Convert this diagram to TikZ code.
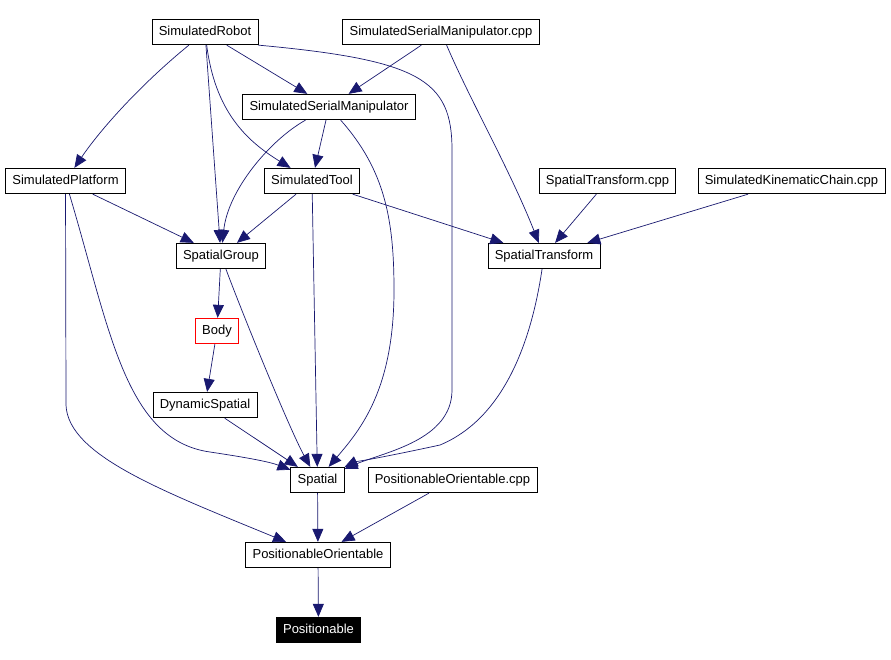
\documentclass[tikz,border=0pt]{standalone}
\usepackage{fontspec}
\setmainfont{Liberation Sans}
\usetikzlibrary{arrows.meta}
\definecolor{edgeblue}{RGB}{25,25,112}
\begin{document}
\begin{tikzpicture}[x=1pt,y=-1pt,
  file/.style={draw=black,line width=0.8pt,inner xsep=6.8pt,inner ysep=0pt,
    minimum height=25.5pt,text height=9.4pt,text depth=2.6pt,
    font=\fontsize{13}{15}\selectfont},
  dep/.style={draw=edgeblue,line width=0.7pt,
    -{Triangle[length=13pt,width=11pt,fill=edgeblue]}}]
  \useasboundingbox[fill=white] (0,0) rectangle (891,659);
  \node[file] (robot) at (205,32) {SimulatedRobot};
  \node[file] (smcpp) at (441,32) {SimulatedSerialManipulator.cpp};
  \node[file] (smanip) at (329,107) {SimulatedSerialManipulator};
  \node[file] (platform) at (65.5,181) {SimulatedPlatform};
  \node[file] (tool) at (312,181) {SimulatedTool};
  \node[file] (stcpp) at (607.5,181) {SpatialTransform.cpp};
  \node[file] (kccpp) at (791.5,181) {SimulatedKinematicChain.cpp};
  \node[file] (sgroup) at (221,256) {SpatialGroup};
  \node[file] (stransform) at (544,256) {SpatialTransform};
  \node[file,draw=red] (body) at (217,331) {Body};
  \node[file] (dynspatial) at (205,405) {DynamicSpatial};
  \node[file] (spatial) at (317.5,480) {Spatial};
  \node[file] (pocpp) at (452.5,480) {PositionableOrientable.cpp};
  \node[file] (posor) at (318,555) {PositionableOrientable};
  \node[file,fill=black,text=white] (posit) at (318.5,630) {Positionable};

  \draw[dep] (robot) .. controls (140,85) and (100,130) .. (platform);
  \draw[dep] (robot) -- (sgroup);
  \draw[dep] (robot) .. controls (215,110) and (245,140) .. (tool);
  \draw[dep] (robot) -- (smanip);
  \draw[dep] (robot.south east) .. controls (420,60) and (452,80) .. (452,150)
    -- (452,390) .. controls (452,440) and (385,452) .. (spatial);
  \draw[dep] (smcpp) -- (smanip);
  \draw[dep] (smcpp) .. controls (470,100) and (510,170) .. (stransform);
  \draw[dep] (smanip) .. controls (270,140) and (228,190) .. (sgroup);
  \draw[dep] (smanip) -- (tool);
  \draw[dep] (smanip) .. controls (385,170) and (394,220) .. (394,290)
    .. controls (394,390) and (360,430) .. (spatial);
  \draw[dep] (platform) -- (sgroup);
  \draw[dep] (platform) .. controls (110,330) and (125,440) .. (210,452)
    .. controls (250,458) and (270,462) .. (spatial);
  \draw[dep] (platform) -- (66,405) .. controls (68,455) and (160,490) .. (posor);
  \draw[dep] (tool) -- (sgroup);
  \draw[dep] (tool) -- (spatial);
  \draw[dep] (tool) -- (stransform);
  \draw[dep] (stcpp) -- (stransform);
  \draw[dep] (kccpp) -- (stransform);
  \draw[dep] (stransform) .. controls (530,350) and (500,420) .. (440,445)
    .. controls (380,458) and (355,462) .. (spatial);
  \draw[dep] (sgroup) -- (body);
  \draw[dep] (sgroup) .. controls (245,320) and (290,430) .. (spatial);
  \draw[dep] (body) -- (dynspatial);
  \draw[dep] (dynspatial) -- (spatial);
  \draw[dep] (spatial) -- (posor);
  \draw[dep] (pocpp) -- (posor);
  \draw[dep] (posor) -- (posit);
\end{tikzpicture}
\end{document}
